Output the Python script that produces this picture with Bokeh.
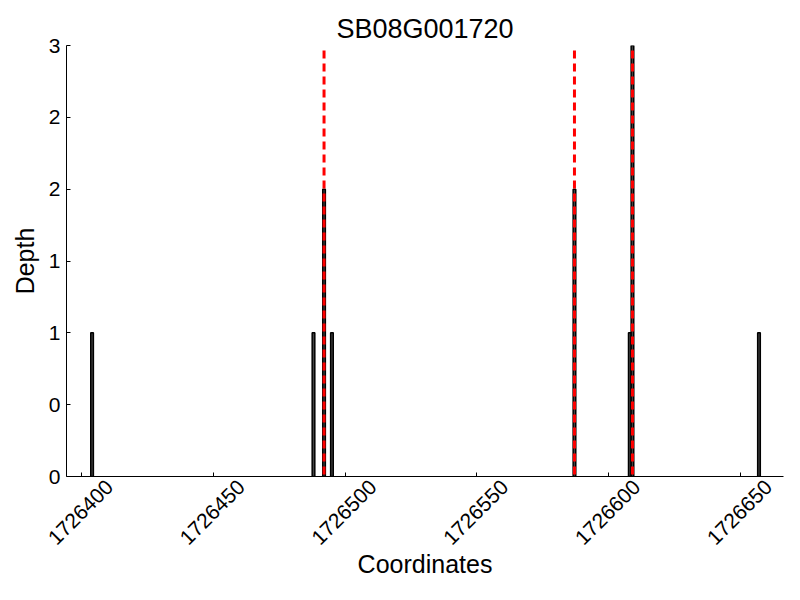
from bokeh.plotting import figure
from bokeh.models import FixedTicker, Range1d, Span
from bokeh.embed import file_html
from bokeh.resources import INLINE

# ---- data ----
chart_title = "SB08G001720"
positions = [1726404, 1726488, 1726492, 1726495, 1726587, 1726608, 1726609, 1726657]
depths = [1, 1, 2, 1, 2, 1, 3, 1]
marker_positions = [1726492, 1726587, 1726609]
xtick_values = [1726400, 1726450, 1726500, 1726550, 1726600, 1726650]
xtick_labels = ["1726400", "1726450", "1726500", "1726550", "1726600", "1726650"]
ytick_values = [0, 0.5, 1, 1.5, 2, 2.5, 3]
ytick_labels = ["0", "0", "1", "1", "2", "2", "3"]

FONT = "Liberation Sans"
px_per_unit = 2.636
label_shift = 28 / px_per_unit  # rotated labels centred on tick (matplotlib style)

p = figure(width=784, height=584, output_backend="svg", toolbar_location=None,
           x_range=Range1d(1726394.3, 1726666.3), y_range=Range1d(0, 3),
           min_border_left=66, min_border_right=1, min_border_top=45, min_border_bottom=108,
           title=chart_title)
p.outline_line_color = None
p.xgrid.visible = False
p.ygrid.visible = False
p.background_fill_color = "white"
p.border_fill_color = "white"

p.title.text_font = FONT
p.title.text_font_size = "27px"
p.title.text_font_style = "normal"
p.title.text_color = "black"
p.title.align = "center"
p.title.standoff = 3
p.title.offset = -5

p.vbar(x=positions, top=depths, bottom=0, width=1, fill_color="#444444",
       line_color="black", line_width=1.5)

for mp in marker_positions:
    p.add_layout(Span(location=mp, dimension="height", line_color="red",
                      line_dash="8 5", line_dash_offset=8, line_width=3))

# x axis
shifted = [v + label_shift for v in xtick_values]
xa = p.xaxis[0]
xa.ticker = FixedTicker(ticks=shifted, minor_ticks=xtick_values)
xa.major_label_overrides = {s: l for s, l in zip(shifted, xtick_labels)}
xa.major_tick_line_color = None
xa.minor_tick_in = 4
xa.minor_tick_out = 0
xa.minor_tick_line_color = "black"
xa.major_label_orientation = 0.785398
xa.major_label_standoff = 1
xa.major_label_text_font = FONT
xa.major_label_text_font_size = "21px"
xa.major_label_text_color = "black"
xa.axis_label = "Coordinates"
xa.axis_label_text_font = FONT
xa.axis_label_text_font_size = "25px"
xa.axis_label_text_font_style = "normal"
xa.axis_label_text_color = "black"
xa.axis_label_standoff = -4
xa.axis_line_color = "black"

# y axis
ya = p.yaxis[0]
ya.ticker = FixedTicker(ticks=ytick_values)
ya.major_label_overrides = {v: l for v, l in zip(ytick_values, ytick_labels)}
ya.major_tick_in = 4
ya.major_tick_out = 0
ya.minor_tick_line_color = None
ya.major_label_standoff = 6
ya.major_label_text_font = FONT
ya.major_label_text_font_size = "21px"
ya.major_label_text_color = "black"
ya.axis_label = "Depth"
ya.axis_label_text_font = FONT
ya.axis_label_text_font_size = "25px"
ya.axis_label_text_font_style = "normal"
ya.axis_label_text_color = "black"
ya.axis_label_standoff = 7
ya.axis_line_color = "black"

open("out.html", "w").write(file_html(p, INLINE))
